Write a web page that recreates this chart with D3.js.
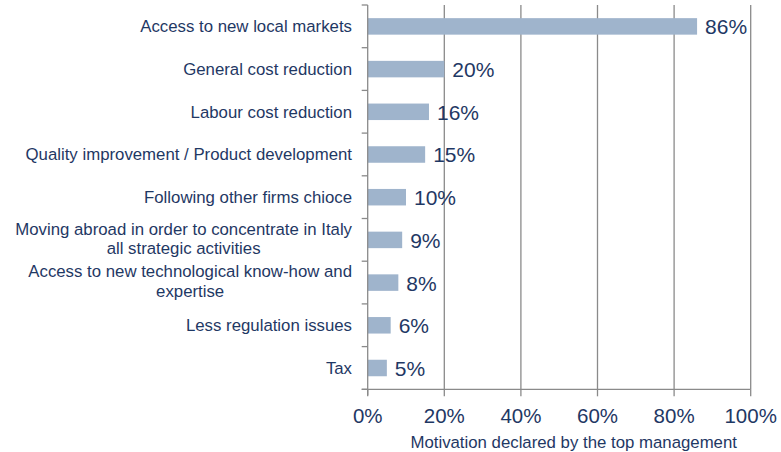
<!DOCTYPE html>
<html>
<head>
<meta charset="utf-8">
<script src="https://cdn.jsdelivr.net/npm/d3@7/dist/d3.min.js"></script>
<style>
  html, body { margin: 0; padding: 0; background: #fff; }
  svg { display: block; font-family: "Liberation Sans", Arial, sans-serif; }
</style>
</head>
<body>
<svg id="chart" width="781" height="452"></svg>
<script>
const categories = [
  ["Access to new local markets"],
  ["General cost reduction"],
  ["Labour cost reduction"],
  ["Quality improvement / Product development"],
  ["Following other firms chioce"],
  ["Moving abroad in order to concentrate in Italy", "all strategic activities"],
  ["Access to new technological know-how and", "expertise"],
  ["Less regulation issues"],
  ["Tax"]
];
const values = [86, 20, 16, 15, 10, 9, 8, 6, 5];
const xTicks = [0, 20, 40, 60, 80, 100];
const xTitle = "Motivation declared by the top management";

const textColor = "#1f3864";
const barColor = "#9fb4cc";
const gridColor = "#8a8a8a";
const catFont = 16.8;

const svg = d3.select("#chart");
const pLeft = 367.7, pRight = 750.7, pTop = 5, pBottom = 389.3;

const x = d3.scaleLinear().domain([0, 100]).range([pLeft, pRight]);
const yb = d3.scaleBand().domain(d3.range(categories.length)).range([pTop, pBottom]);

// gridlines
svg.append("g").selectAll("line").data(xTicks.filter(d => d > 0)).join("line")
  .attr("x1", d => x(d)).attr("x2", d => x(d))
  .attr("y1", pTop).attr("y2", pBottom)
  .attr("stroke", gridColor).attr("stroke-width", 1.3);

// bars
svg.append("g").selectAll("rect").data(values).join("rect")
  .attr("x", x(0))
  .attr("y", (d, i) => yb(i) + yb.bandwidth() / 2 - 8.2)
  .attr("width", d => x(d) - x(0))
  .attr("height", 16.5)
  .attr("fill", barColor);

// y axis
const yAxisG = svg.append("g");
yAxisG.append("line").attr("x1", pLeft).attr("x2", pLeft).attr("y1", pTop).attr("y2", pBottom + 6)
  .attr("stroke", gridColor).attr("stroke-width", 1.3);
const yTickPos = d3.range(categories.length + 1).map(i => pTop + i * yb.bandwidth());
yAxisG.selectAll("line.t").data(yTickPos).join("line").attr("class", "t")
  .attr("x1", pLeft - 6).attr("x2", pLeft).attr("y1", d => d).attr("y2", d => d)
  .attr("stroke", gridColor).attr("stroke-width", 1.3);

// x axis
const xAxisG = svg.append("g");
xAxisG.append("line").attr("x1", pLeft - 6).attr("x2", pRight).attr("y1", pBottom).attr("y2", pBottom)
  .attr("stroke", gridColor).attr("stroke-width", 1.3);
xAxisG.selectAll("line.t").data(xTicks).join("line").attr("class", "t")
  .attr("x1", d => x(d)).attr("x2", d => x(d)).attr("y1", pBottom).attr("y2", pBottom + 7)
  .attr("stroke", gridColor).attr("stroke-width", 1.3);
xAxisG.selectAll("text").data(xTicks).join("text")
  .attr("x", d => x(d)).attr("y", 423)
  .attr("text-anchor", "middle")
  .attr("font-size", 20.5).attr("fill", textColor)
  .text(d => d + "%");

// x title
svg.append("text").attr("x", 573.7).attr("y", 448)
  .attr("text-anchor", "middle").attr("font-size", catFont).attr("fill", textColor)
  .text(xTitle);

// category labels
const labG = svg.append("g");
categories.forEach((lines, i) => {
  const cy = yb(i) + yb.bandwidth() / 2;
  const lh = 19.5;
  const t = labG.append("text")
    .attr("font-size", catFont).attr("fill", textColor);
  if (lines.length === 1) {
    t.attr("x", 352).attr("y", cy + 6).attr("text-anchor", "end").text(lines[0]);
  } else {
    t.attr("text-anchor", "middle");
    const tmp = labG.append("text").attr("font-size", catFont).text(lines[0]);
    const w = tmp.node().getComputedTextLength();
    tmp.remove();
    const cx = 352 - w / 2;
    lines.forEach((ln, k) => {
      t.append("tspan").attr("x", cx)
        .attr("y", cy + 6 - lh / 2 + k * lh - 1.5)
        .text(ln);
    });
  }
});

// value labels
svg.append("g").selectAll("text").data(values).join("text")
  .attr("x", d => x(d) + 8)
  .attr("y", (d, i) => yb(i) + yb.bandwidth() / 2 + 8)
  .attr("font-size", 21).attr("fill", textColor)
  .text(d => d + "%");
</script>
</body>
</html>
